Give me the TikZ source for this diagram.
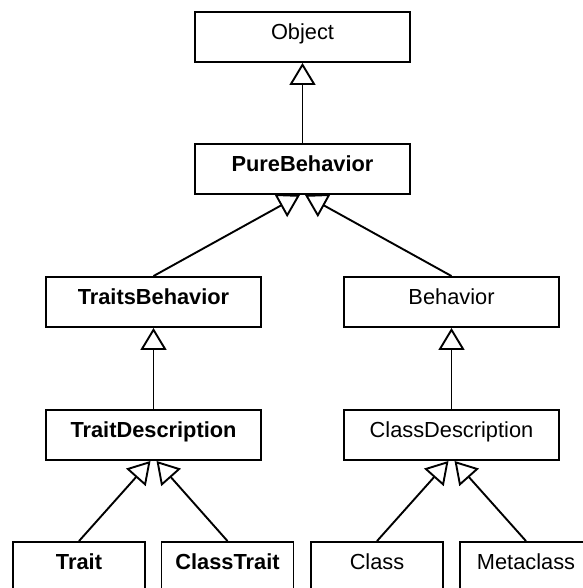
\documentclass[tikz,border=0pt]{standalone}
\usepackage{fontspec}
\setmainfont{Liberation Sans}
\usetikzlibrary{arrows.meta}

\tikzset{
  classbox/.style={draw, line width=1.9pt, rectangle, inner sep=0pt,
    minimum height=50pt, text height=27.5pt, text depth=22.5pt,
    font=\fontsize{21.8}{26}\selectfont},
  widebox/.style={classbox, minimum width=215pt},
  leafbox/.style={classbox, minimum width=132pt},
  strong/.style={font=\fontsize{21.8}{26}\selectfont\bfseries},
  gen/.style={line width=1.9pt,
    -{Triangle[open, length=22pt, width=26pt, line width=1.9pt]}}
}

\begin{document}
\begin{tikzpicture}[x=1pt, y=-1pt]
  \fill[white] (0,0) rectangle (582,588);
  \useasboundingbox (0,0) rectangle (582,588);

  % class hierarchy
  \node[widebox] (obj) at (302.5,37) {Object};
  \node[widebox, strong] (pure) at (302.5,169) {PureBehavior};
  \node[widebox, strong] (tb) at (153.5,302) {TraitsBehavior};
  \node[widebox] (beh) at (451.5,302) {Behavior};
  \node[widebox, strong] (td) at (153.5,435) {TraitDescription};
  \node[widebox] (cd) at (451.5,435) {ClassDescription};
  \node[leafbox, strong] (trait) at (79,567) {Trait};
  \node[leafbox, strong] (ctrait) at (227.5,567) {ClassTrait};
  \node[leafbox] (cls) at (377,567) {Class};
  \node[leafbox] (meta) at (526,567) {Metaclass};

  % generalisation links
  \draw[gen] (pure.north) -- (obj.south);
  \draw[gen] (tb.north) -- ([xshift=-2.5pt]pure.south);
  \draw[gen] (beh.north) -- ([xshift=2.5pt]pure.south);
  \draw[gen] (td.north) -- (tb.south);
  \draw[gen] (cd.north) -- (beh.south);
  \draw[gen] (trait.north) -- ([xshift=-3pt]td.south);
  \draw[gen] (ctrait.north) -- ([xshift=3pt]td.south);
  \draw[gen] (cls.north) -- ([xshift=-3pt]cd.south);
  \draw[gen] (meta.north) -- ([xshift=3pt]cd.south);
\end{tikzpicture}
\end{document}
